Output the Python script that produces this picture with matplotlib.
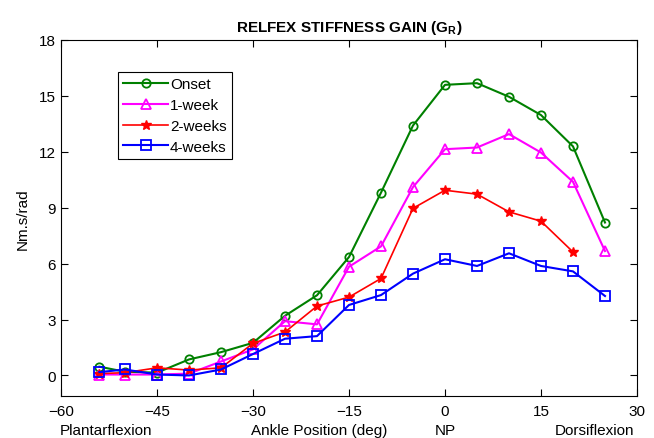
import numpy as np
import matplotlib
matplotlib.use('Agg')
import matplotlib.pyplot as plt

plt.rcParams['font.family'] = 'Liberation Sans'
plt.rcParams['mathtext.fontset'] = 'custom'
plt.rcParams['mathtext.rm'] = 'Liberation Sans'
plt.rcParams['mathtext.bf'] = 'Liberation Sans:bold'

# ankle positions (deg)
angle = [-54, -50, -45, -40, -35, -30, -25, -20, -15, -10, -5, 0, 5, 10, 15, 20, 25]

onset   = [0.47, 0.2, 0.15, 0.86, 1.25, 1.75, 3.2, 4.3, 6.35, 9.8, 13.4, 15.58, 15.67, 14.94, 13.96, 12.28, 8.2]
week1   = [0.05, 0.05, 0.05, 0.1, 0.75, 1.4, 2.91, 2.74, 5.83, 6.92, 10.1, 12.13, 12.22, 12.94, 11.95, 10.38, 6.67]
weeks2  = [0.1, 0.15, 0.41, 0.29, 0.41, 1.72, 2.33, 3.72, 4.2, 5.2, 8.96, 9.93, 9.72, 8.77, 8.27, 6.62]
weeks4  = [0.18, 0.32, 0.05, 0.0, 0.32, 1.15, 1.97, 2.11, 3.78, 4.31, 5.46, 6.23, 5.87, 6.55, 5.87, 5.58, 4.26]

xticks = [-60, -45, -30, -15, 0, 15, 30]
yticks = [0, 3, 6, 9, 12, 15, 18]

fig = plt.figure(figsize=(6.54, 4.39), dpi=100)
ax = fig.add_axes([0.0933, 0.0957, 0.8807, 0.8116])

ax.plot(angle, onset, '-o', color='#008000', lw=1.5, ms=6, mfc='none', mew=1.3, label='Onset')
ax.plot(angle, week1, '-^', color='#FF00FF', lw=1.5, ms=7, mfc='none', mew=1.3, label='1-week')
ax.plot(angle[:len(weeks2)], weeks2, '-*', color='#FF0000', lw=1.2, ms=7, mew=1.0, label='2-weeks')
ax.plot(angle, weeks4, '-s', color='#0000FF', lw=1.5, ms=7, mfc='none', mew=1.3, label='4-weeks')

ax.set_xlim(-60, 30)
ax.set_ylim(-1.1, 18)
ax.set_xticks(xticks)
ax.set_yticks(yticks)
ax.tick_params(direction='in', top=True, right=True, labelsize=11, length=5)
ax.tick_params(axis='x', pad=6)

ax.set_ylabel('Nm.s/rad', fontsize=11, labelpad=7)
ax.set_title(r'RELFEX STIFFNESS GAIN (G$_\mathbf{R}$)', fontsize=11, fontweight='bold', pad=6)

trans = ax.get_xaxis_transform()
ax.text(-53, -0.095, 'Plantarflexion', transform=trans, ha='center', va='center', fontsize=11)
ax.text(-19.6, -0.095, 'Ankle Position (deg)', transform=trans, ha='center', va='center', fontsize=11)
ax.text(0, -0.095, 'NP', transform=trans, ha='center', va='center', fontsize=11)
ax.text(23.4, -0.095, 'Dorsiflexion', transform=trans, ha='center', va='center', fontsize=11)

leg = ax.legend(loc='upper left', bbox_to_anchor=(0.099, 0.91), borderaxespad=0, fontsize=11,
                fancybox=False, edgecolor='black', framealpha=1, handlelength=2.9,
                borderpad=0.35, labelspacing=0.45, handletextpad=0.15)
leg.get_frame().set_linewidth(0.8)

fig.savefig('out.png', dpi=100)
